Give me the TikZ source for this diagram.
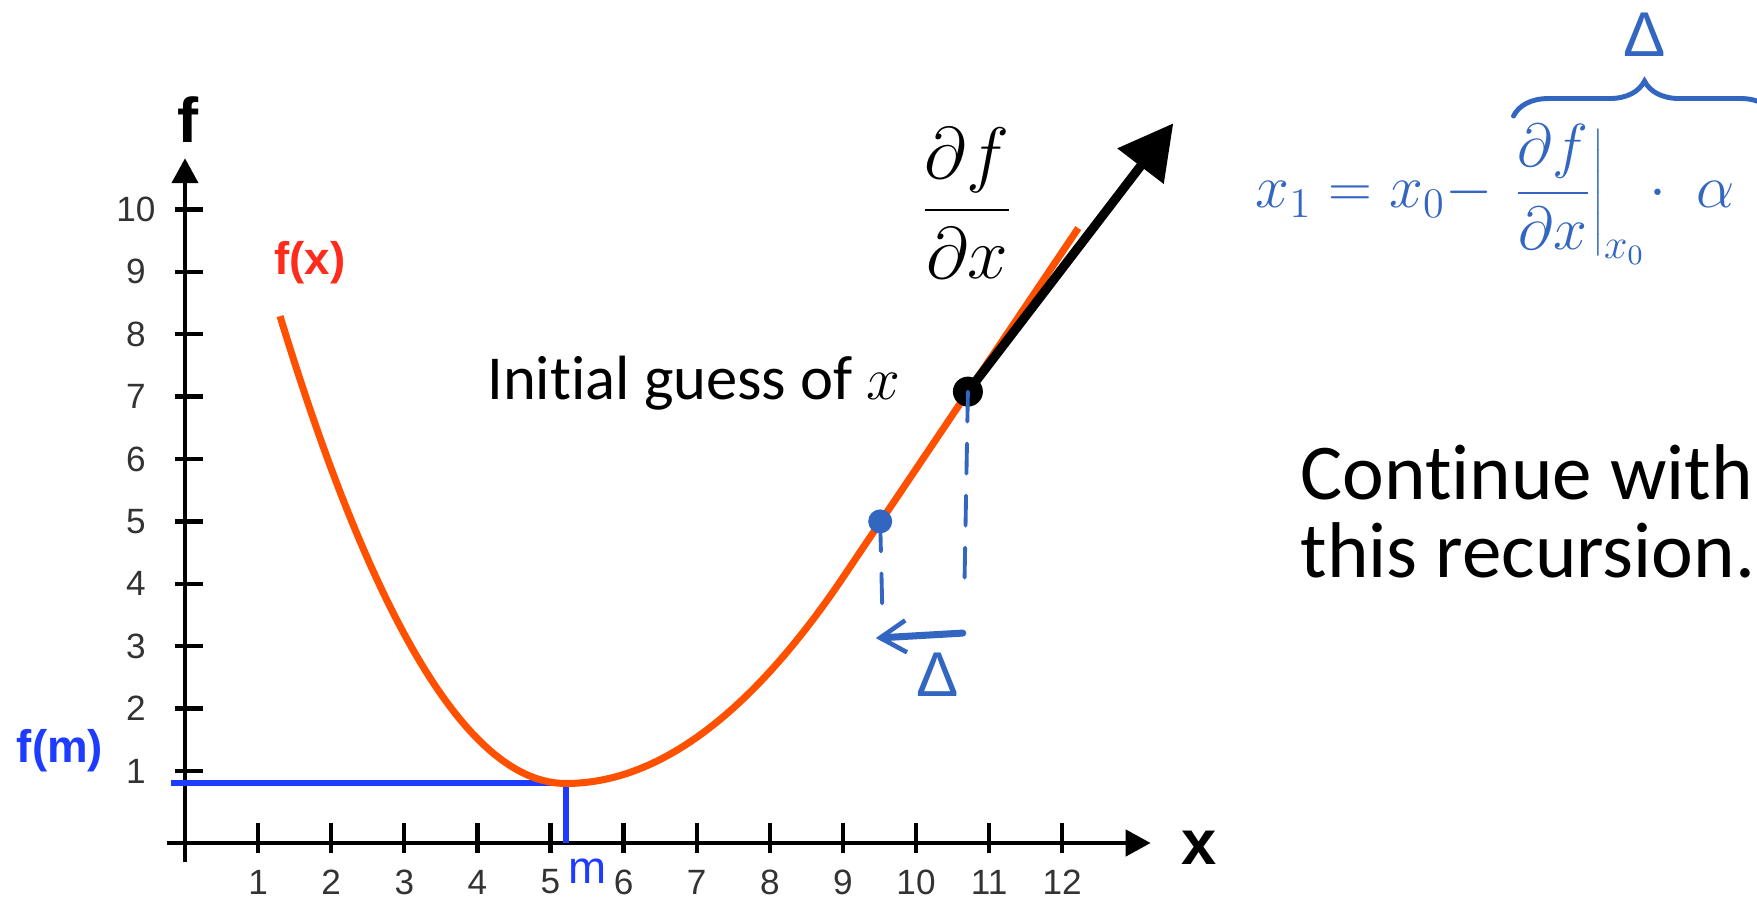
\documentclass[tikz,border=0pt]{standalone}
\usepackage{fontspec}
\setmainfont{Carlito}[Ligatures=NoCommon]
\newfontfamily\arialfont{Liberation Sans}
\usepackage{tikz}
\usetikzlibrary{arrows.meta, positioning, decorations.pathreplacing}

\definecolor{gdorange}{HTML}{FF5000}
\definecolor{gdred}{HTML}{FF2B1C}
\definecolor{gdblue}{HTML}{1E3CFF}
\definecolor{penblue}{HTML}{3366C0}
\definecolor{tickgray}{HTML}{333333}

\begin{document}
\begin{tikzpicture}[
  axis/.style={line width=1.3pt, -{Triangle[length=2.5mm, width=2.6mm]}},
  tickmark/.style={line width=1.2pt},
  ticklbl/.style={font=\arialfont\fontsize{10}{12}\selectfont, text=tickgray, inner sep=0pt},
  axislbl/.style={font=\arialfont\bfseries\fontsize{18}{20}\selectfont, inner sep=0pt},
  curvelbl/.style={font=\arialfont\bfseries\fontsize{13}{15}\selectfont},
  dot/.style={circle, fill, inner sep=0pt, minimum size=#1},
  pen/.style={penblue, line width=1.1pt, line cap=round},
  pendash/.style={pen, dash pattern=on 3mm off 2.2mm},
  hand/.style={text=penblue, inner sep=0pt, font=\fontsize{17}{21}\selectfont},
  slide/.style={font=\fontsize{22.5}{22}\selectfont, anchor=base west, inner sep=0pt},
]
\useasboundingbox (0,0) rectangle (17.57,9);

% plot in data units
\begin{scope}[shift={(1.85,0.666)}, x=0.731cm, y=0.624cm]
  \draw[axis] (-0.25,-0.154) -- (13.21,-0.154);
  \draw[axis] (0,-0.46) -- (0,10.82);
  \foreach \k in {1,...,10} {
    \draw[tickmark] (0,\k) ++(-0.1cm,0) -- ++(0.28cm,0);
    \path (0,\k) ++(-0.49cm,0) node[ticklbl] {\k};
  }
  \foreach \k in {1,...,12} {
    \draw[tickmark] (\k,-0.154) ++(0,0.2cm) -- ++(0,-0.3cm);
    \path (\k,-0.154) ++(0,-0.39cm) node[ticklbl] {\k};
  }
  \node[axislbl, anchor=base] (flbl) at (0.04,11.08) {f};
  \node[axislbl, anchor=base] (xlbl) at (13.87,-0.506) {x};

  \coordinate (xmin) at (5.21,0.80);
  \coordinate (x1) at (9.51,5.0);
  \coordinate (x0) at (10.71,7.08);
  \coordinate (tip) at (13.52,11.38);

  % f(m) guide lines
  \draw[gdblue, line width=1.7pt] (-0.19,0.80) -- (xmin) -- (5.21,-0.154);

  % the function
  \draw[gdorange, line width=2pt] (1.30,8.29) .. controls (2.60,3.30) and (3.91,0.80) .. (xmin)
    .. controls (6.47,0.80) and (7.73,1.90) .. (9.0,4.10) -- (12.22,9.70);

  \node[curvelbl, text=gdred] (fx) at (1.71,9.14) {f(x)};
  \node[curvelbl, text=gdblue] (fm) at (-1.71,1.32) {f(m)};
  \node[font=\arialfont\fontsize{13}{15}\selectfont, text=gdblue, anchor=base, inner sep=0pt] (mlbl) at (5.51,-0.795) {m};

  % gradient at the initial guess
  \node[dot=3mm] (x0dot) at (x0) {};
  \draw[line width=2.6pt, -{Triangle[length=5.4mm, width=5.6mm]}] (x0dot.center) -- (tip);
  \node[font=\fontsize{22}{26}\selectfont] (dfdx) at (10.70,10.10) {$\displaystyle\frac{\partial f}{\partial x}$};
  \node[font=\fontsize{17.8}{21}\selectfont, anchor=base east, inner sep=0pt] (guess) at (9.80,6.95) {Initial guess of $x$};

  % handwritten step
  \coordinate (stepR) at (10.64,3.21);
  \coordinate (stepL) at (9.45,3.13);
  \draw[pendash] (x0dot.center) -- (10.66,3.79);
  \node[dot=2.4mm, penblue] (x1dot) at (x1) {};
  \draw[pendash] (x1dot.center) -- (9.54,3.55);
  \draw[pen, line width=2pt, -{Straight Barb[length=2.6mm, width=3.2mm, line width=1.3pt]}] (stepR) -- (stepL);
  \node[font=\arialfont\fontsize{18}{20}\selectfont, text=penblue] (dstep) at (10.29,2.54) {Δ};
\end{scope}

% update rule
\node[hand, anchor=base west] (upd) at (12.55,6.92) {$x_1 = x_0 -$};
\node[hand, base right=0.15cm of upd] (fgrad) {$\displaystyle\left.\frac{\partial f}{\partial x}\right|_{x_0}\!\cdot\;\alpha$};
\draw[pen, line width=1.4pt, decorate, decoration={brace, amplitude=3.5mm}]
  ([xshift=0.05cm, yshift=0.08cm]fgrad.north west) -- ([xshift=0.4cm, yshift=0.08cm]fgrad.north east)
  node[midway, above=4.5mm, font=\arialfont\fontsize{18}{20}\selectfont, text=penblue] (dtop) {Δ};

\node[slide] (cont) at (13.0,4.0) {Continue with};
\node[slide] (rec) at (13.0,3.23) {this recursion.};
\end{tikzpicture}
\end{document}
